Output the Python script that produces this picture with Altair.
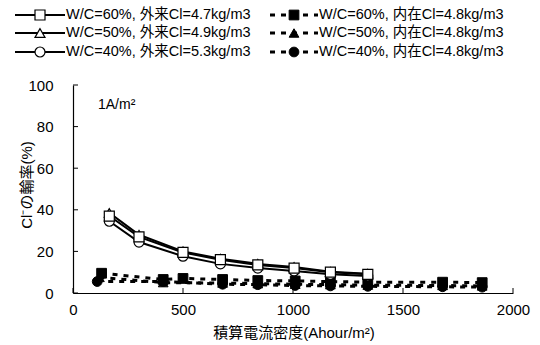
import altair as alt
import pandas as pd

# Accumulated current density (Ahour/m2) and chloride transference number (%)
open_x = [165, 300, 500, 670, 840, 1005, 1170, 1340]
wc60_ext = [37.0, 27.0, 19.5, 16.0, 13.5, 12.0, 10.0, 9.0]
wc50_ext = [38.5, 28.0, 20.0, 16.5, 14.0, 12.5, 10.2, 9.3]
wc40_ext = [34.5, 24.5, 17.7, 14.0, 12.0, 10.6, 9.0, 8.2]

int_x = [130, 410, 500, 680, 840, 1010, 1170, 1340, 1680, 1860]
wc60_int = [9.5, 6.5, 7.0, 6.5, 6.0, 5.8, 5.5, 5.2, 5.2, 5.0]
int_x50 = [120, 410, 680, 840, 1010, 1170, 1340, 1680, 1860]
wc50_int = [7.5, 5.0, 4.8, 4.5, 4.2, 4.0, 3.8, 3.6, 3.4]
int_x40 = [110, 410, 680, 840, 1010, 1170, 1340, 1680, 1860]
wc40_int = [5.5, 5.5, 4.2, 4.0, 3.6, 3.4, 3.2, 3.0, 2.8]

series_names = [
    "W/C=60%, 外来Cl=4.7kg/m3",
    "W/C=50%, 外来Cl=4.9kg/m3",
    "W/C=40%, 外来Cl=5.3kg/m3",
    "W/C=60%, 内在Cl=4.8kg/m3",
    "W/C=50%, 内在Cl=4.8kg/m3",
    "W/C=40%, 内在Cl=4.8kg/m3",
]

x_ticks = [0, 500, 1000, 1500, 2000]
y_ticks = [0, 20, 40, 60, 80, 100]

FONT = "'Liberation Sans', 'Noto Sans CJK JP', sans-serif"
W, H = 440, 208

xs = alt.Scale(domain=[0, 2000], nice=False)
ys = alt.Scale(domain=[0, 100], nice=False)

x_axis_def = alt.Axis(
    values=x_ticks, ticks=False, domain=True, domainColor="black",
    domainWidth=1.2, grid=False, labelFont=FONT, labelFontSize=15,
    labelColor="black", labelPadding=9, title=None, format="d",
    labelFlush=False,
)
y_axis_def = alt.Axis(
    values=y_ticks, ticks=False, domain=True, domainColor="black",
    domainWidth=1.2, grid=False, labelFont=FONT, labelFontSize=15,
    labelColor="black", labelPadding=20, title=None,
)


def X(field="x"):
    return alt.X(f"{field}:Q", scale=xs, axis=x_axis_def)


def Y(field="y"):
    return alt.Y(f"{field}:Q", scale=ys, axis=y_axis_def)


series = [
    (series_names[0], open_x, wc60_ext, "square", True),
    (series_names[1], open_x, wc50_ext, "triangle-up", True),
    (series_names[2], open_x, wc40_ext, "circle", True),
    (series_names[3], int_x, wc60_int, "square", False),
    (series_names[4], int_x50, wc50_int, "triangle-up", False),
    (series_names[5], int_x40, wc40_int, "circle", False),
]

OPEN_PT = dict(filled=True, fill="white", stroke="black", strokeWidth=1.2,
               size=100, opacity=1)
FILLED_PT = dict(filled=True, fill="black", stroke="black", strokeWidth=1,
                 size=95, opacity=1)
SOLID_LN = dict(color="black", strokeWidth=2)
DASH_LN = dict(color="black", strokeWidth=3, strokeDash=[5, 6])

lines, points = [], []
for name, xv, yv, shape, is_open in series[::-1]:
    df = pd.DataFrame({"x": xv, "y": yv, "s": name})
    line_style = SOLID_LN if is_open else DASH_LN
    pt_style = OPEN_PT if is_open else FILLED_PT
    lines.append(alt.Chart(df).mark_line(**line_style).encode(x=X(), y=Y()))
    points.append(
        alt.Chart(df).mark_point(shape=shape, **pt_style).encode(x=X(), y=Y())
    )

# Inward tick marks on both axes
x_tick_marks = alt.Chart(pd.DataFrame({"x": x_ticks})).mark_rule(
    color="black", strokeWidth=1
).encode(x=X(), y=alt.value(H), y2=alt.value(H - 5))
y_tick_marks = alt.Chart(pd.DataFrame({"y": y_ticks})).mark_rule(
    color="black", strokeWidth=1
).encode(y=Y(), x=alt.value(0), x2=alt.value(5))

# Axis titles and current density note
x_title = alt.Chart(pd.DataFrame({"t": ["積算電流密度(Ahour/m²)"]})).mark_text(
    font=FONT, fontSize=15, color="black", align="center", baseline="middle"
).encode(text="t:N", x=alt.value(221), y=alt.value(H + 40))

y_title = alt.Chart(pd.DataFrame({"t": ["Cl⁻の輸率(%)"]})).mark_text(
    font=FONT, fontSize=15, color="black", align="center", baseline="middle",
    angle=270,
).encode(text="t:N", x=alt.value(-46), y=alt.value(100))

note = alt.Chart(pd.DataFrame({"t": ["1A/m²"]})).mark_text(
    font=FONT, fontSize=14, color="black", align="left", baseline="middle"
).encode(text="t:N", x=alt.value(25), y=alt.value(20))

# Legend: two columns of three entries above the plot
leg_rows = [-70, -52, -33]
leg_left = [-58, -8]
leg_right = [197, 245]
legend_layers = []
for i, (name, _, _, shape, is_open) in enumerate(series):
    row = leg_rows[i % 3]
    x0, x1 = leg_left if is_open else leg_right
    d = pd.DataFrame({"t": [name]})
    line_style = SOLID_LN if is_open else DASH_LN
    pt_style = OPEN_PT if is_open else FILLED_PT
    rule = alt.Chart(d).mark_rule(**line_style).encode(
        x=alt.value(x0), x2=alt.value(x1), y=alt.value(row))
    sym = alt.Chart(d).mark_point(shape=shape, **pt_style).encode(
        x=alt.value((x0 + x1) / 2), y=alt.value(row))
    label = alt.Chart(d).mark_text(
        font=FONT, fontSize=14.5, color="black", align="left",
        baseline="middle",
    ).encode(text="t:N", x=alt.value(x1 + 1), y=alt.value(row))
    legend_layers += [rule, sym, label]

chart = alt.layer(
    x_tick_marks, y_tick_marks, *lines, *points, x_title, y_title, note,
    *legend_layers
).properties(
    width=W, height=H,
    padding={"left": 73, "top": 85, "right": 27, "bottom": 52},
    autosize=alt.AutoSizeParams(type="none"),
    background="white",
).configure_view(stroke=None)

chart.save("out.html", embed_options={"renderer": "svg", "actions": False})
